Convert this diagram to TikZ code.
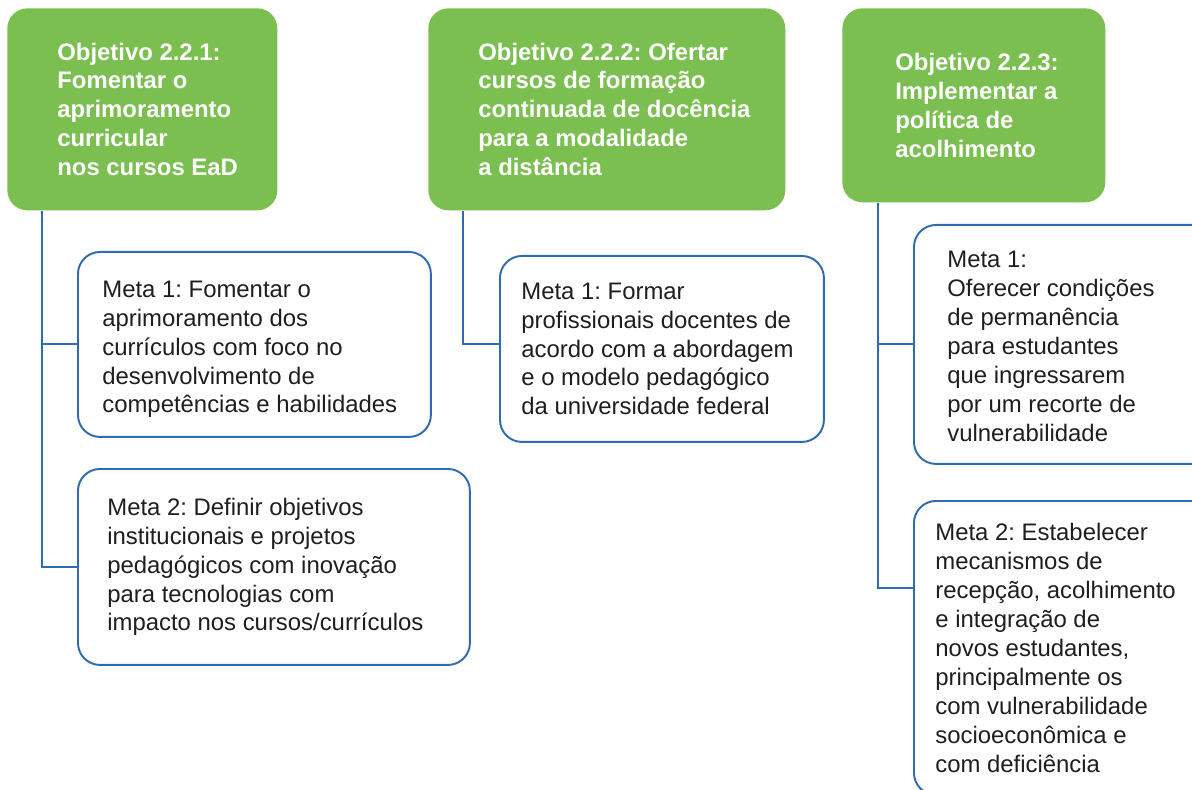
\documentclass[tikz,border=0pt]{standalone}
\usepackage{fontspec}
\setmainfont{Liberation Sans}
\usepackage{xcolor}
\usetikzlibrary{positioning}
\definecolor{objgreen}{HTML}{7BBF50}
\definecolor{linkblue}{HTML}{2E6BB0}
\definecolor{metaink}{HTML}{1E1E1E}
\frenchspacing

\begin{document}
\begin{tikzpicture}[x=0.02cm,y=-0.02cm,
		objbox/.style={rectangle, rounded corners=0.4cm, fill=objgreen, anchor=north west, inner sep=0},
		objtext/.style={anchor=west, inner sep=0, align=left, text=white, font=\fontsize{13.6}{16.45}\selectfont\bfseries},
		metabox/.style={rectangle, rounded corners=0.44cm, draw=linkblue, line width=1.1pt, anchor=north west, inner sep=0},
		metatext/.style={anchor=west, inner sep=0, align=left, text=metaink, font=\fontsize{13.6}{16.45}\selectfont},
		link/.style={draw=linkblue, line width=1.1pt}]
	\useasboundingbox (0,0) rectangle (1192,790);
	
	% objetivos
	\node[objbox, minimum width=5.4cm, minimum height=4.04cm] (obj1) at (7,8) {};
	\node[objbox, minimum width=7.14cm, minimum height=4.04cm] (obj2) at (428,8) {};
	\node[objbox, minimum width=5.26cm, minimum height=3.88cm] (obj3) at (842,8) {};
	
	\node[objtext] (obj1txt) at ([xshift=1cm]obj1.west) {Objetivo 2.2.1:\\Fomentar o\\aprimoramento\\curricular\\nos cursos EaD};
	\node[objtext] (obj2txt) at ([xshift=1cm]obj2.west) {Objetivo 2.2.2: Ofertar\\cursos de formação\\continuada de docência\\para a modalidade\\a distância};
	\node[objtext] (obj3txt) at ([xshift=1.06cm]obj3.west) {Objetivo 2.2.3:\\Implementar a\\política de\\acolhimento};
	
	% metas
	\node[metabox, minimum width=7.06cm, minimum height=3.7cm] (meta11) at (77,251) {};
	\node[metabox, minimum width=7.84cm, minimum height=3.92cm] (meta12) at (77,468) {};
	\node[metabox, minimum width=6.48cm, minimum height=3.72cm] (meta21) at (499,255) {};
	\node[metabox, minimum width=6cm, minimum height=4.78cm] (meta31) at (913,224) {};
	\node[metabox, minimum width=6cm, minimum height=5.88cm] (meta32) at (913,500) {};
	
	\node[metatext] (meta11txt) at ([xshift=0.5cm,yshift=-0.1cm]meta11.west) {Meta 1: Fomentar o\\aprimoramento dos\\currículos com foco no\\desenvolvimento de\\competências e habilidades};
	\node[metatext] (meta12txt) at ([xshift=0.6cm]meta12.west) {Meta 2: Definir objetivos\\institucionais e projetos\\pedagógicos com inovação\\para tecnologias com\\impacto nos cursos/currículos};
	\node[metatext] (meta21txt) at ([xshift=0.44cm]meta21.west) {Meta 1: Formar\\profissionais docentes de\\acordo com a abordagem\\e o modelo pedagógico\\da universidade federal};
	\node[metatext] (meta31txt) at ([xshift=0.68cm,yshift=-0.04cm]meta31.west) {Meta 1:\\Oferecer condições\\de permanência\\para estudantes\\que ingressarem\\por um recorte de\\vulnerabilidade};
	\node[metatext] (meta32txt) at ([xshift=0.44cm]meta32.west) {Meta 2: Estabelecer\\mecanismos de\\recepção, acolhimento\\e integração de\\novos estudantes,\\principalmente os\\com vulnerabilidade\\socioeconômica e\\com deficiência};
	
	% ligacoes
	\draw[link] ([xshift=0.7cm]obj1.south west) |- (meta11.west);
	\draw[link] ([xshift=0.7cm]obj1.south west) |- (meta12.west);
	\draw[link] ([xshift=0.7cm]obj2.south west) |- ([yshift=0.1cm]meta21.west);
	\draw[link] ([xshift=0.72cm]obj3.south west) |- (meta31.west);
	\draw[link] ([xshift=0.72cm]obj3.south west) |- ([yshift=-1.76cm]meta32.north west);
\end{tikzpicture}
\end{document}
